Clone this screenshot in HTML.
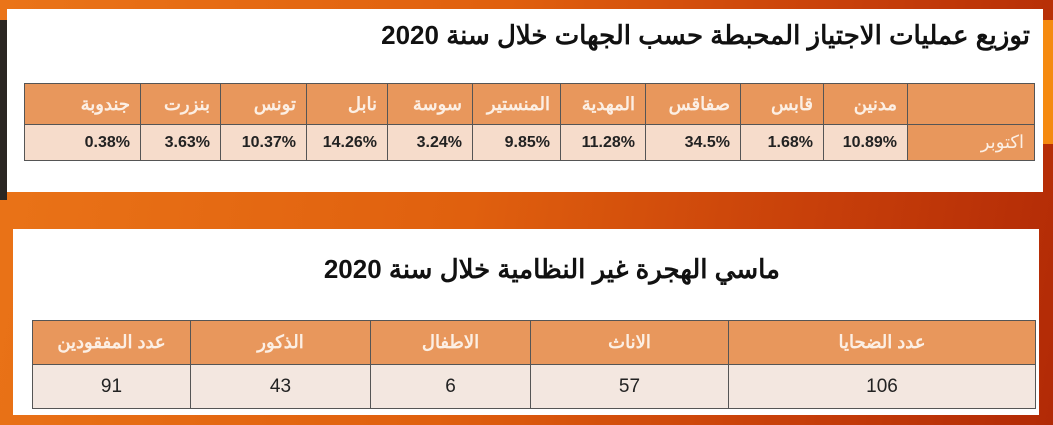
<!DOCTYPE html>
<html><head><meta charset="utf-8"><style>
*{margin:0;padding:0;box-sizing:border-box}
body{width:1053px;height:425px;overflow:hidden;position:relative;background:linear-gradient(100deg,#ea7418 0%,#e0600e 45%,#c8400a 75%,#b22a06 100%);font-family:"Liberation Sans","Noto Sans CJK SC",sans-serif}
.abs{position:absolute}
.panel{background:#fff}
table{border-collapse:collapse;position:absolute;table-layout:fixed}
td{border:1.5px solid #555;overflow:hidden;white-space:nowrap}
.h{background:#e8975c;color:#fcefe4;font-size:18px;font-weight:bold}
.t1 td.h{text-align:right;padding-right:10px}
.t1 td.d{background:#f6dccb;color:#222;font-weight:bold;font-size:16px;text-align:right;padding-right:10px}
.t2 td{text-align:center}
.t2 td.d{background:#f3e7e0;color:#222;font-size:19px}
.title{font-weight:bold;color:#111;font-size:26px;white-space:nowrap;direction:rtl}
</style></head><body>
<div class="abs" style="left:0;top:20px;width:7px;height:180px;background:#2a2622"></div>
<div class="abs" style="left:1043px;top:20px;width:10px;height:124px;background:#f58a10"></div>
<div class="abs panel" style="left:7px;top:9px;width:1036px;height:183px"></div>
<div class="abs title" style="right:23px;top:20px">توزيع عمليات الاجتياز المحبطة حسب الجهات خلال سنة 2020</div>
<table class="t1" style="left:24px;top:83px;width:1010px">
<colgroup><col style="width:116px"><col style="width:80px"><col style="width:86px"><col style="width:81px"><col style="width:85px"><col style="width:88px"><col style="width:85px"><col style="width:95px"><col style="width:83px"><col style="width:84px"><col style="width:127px"></colgroup>
<tr style="height:41px"><td class="h">جندوبة</td><td class="h">بنزرت</td><td class="h">تونس</td><td class="h">نابل</td><td class="h">سوسة</td><td class="h">المنستير</td><td class="h">المهدية</td><td class="h">صفاقس</td><td class="h">قابس</td><td class="h">مدنين</td><td class="h"></td></tr>
<tr style="height:36px"><td class="d">0.38%</td><td class="d">3.63%</td><td class="d">10.37%</td><td class="d">14.26%</td><td class="d">3.24%</td><td class="d">9.85%</td><td class="d">11.28%</td><td class="d">34.5%</td><td class="d">1.68%</td><td class="d">10.89%</td><td class="h" style="border-top:none;font-weight:normal">اكتوبر</td></tr>
</table>
<div class="abs panel" style="left:13px;top:229px;width:1026px;height:186px"></div>
<div class="abs title" style="left:290px;top:254px;width:490px;text-align:right">ماسي الهجرة غير النظامية خلال سنة 2020</div>
<table class="t2" style="left:32px;top:320px;width:1003px">
<colgroup><col style="width:158px"><col style="width:180px"><col style="width:160px"><col style="width:198px"><col style="width:307px"></colgroup>
<tr style="height:44px"><td class="h">عدد المفقودين</td><td class="h">الذكور</td><td class="h">الاطفال</td><td class="h">الاناث</td><td class="h">عدد الضحايا</td></tr>
<tr style="height:44px"><td class="d">91</td><td class="d">43</td><td class="d">6</td><td class="d">57</td><td class="d">106</td></tr>
</table>
</body></html>
